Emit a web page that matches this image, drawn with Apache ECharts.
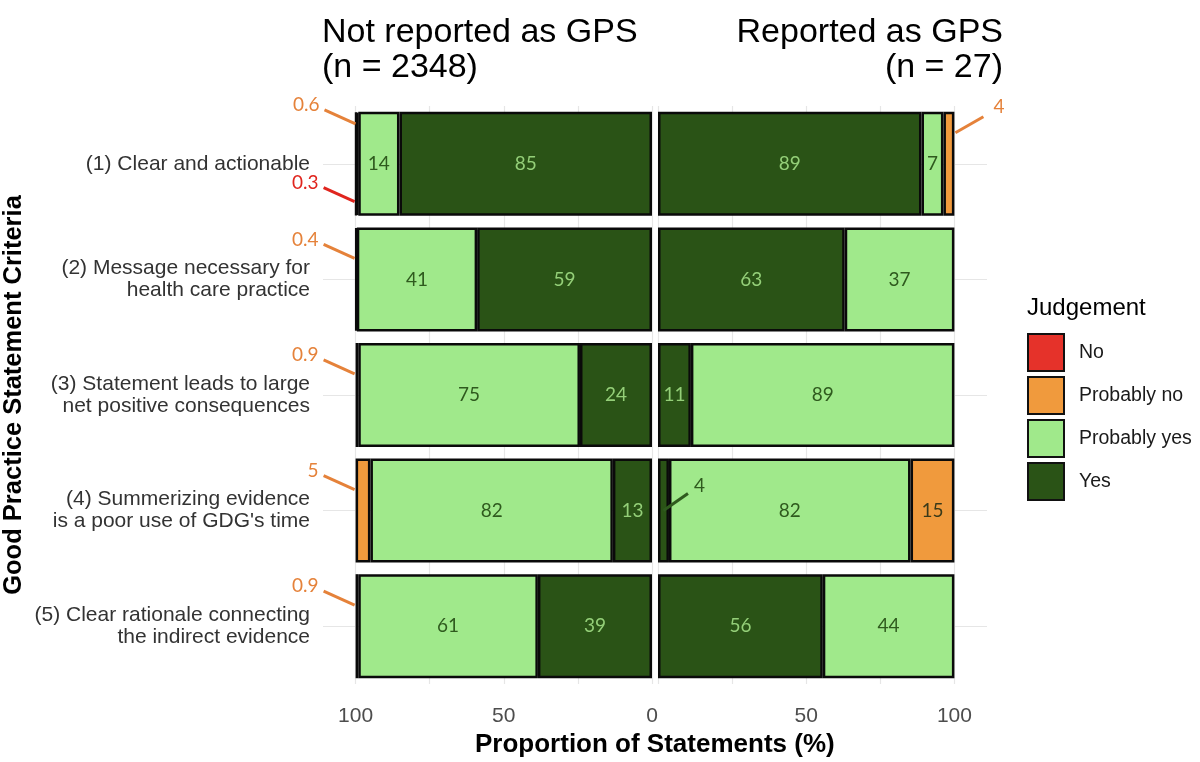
<!DOCTYPE html>
<html>
<head>
<meta charset="utf-8">
<script src="https://cdn.jsdelivr.net/npm/echarts@6/dist/echarts.min.js"></script>
<style>
  html, body { margin: 0; padding: 0; background: #fff; }
  #chart { width: 1200px; height: 762px; }
</style>
</head>
<body>
<div id="chart"></div>
<script>
// categories (top to bottom)
const criteria = [
    "(1) Clear and actionable",
    "(2) Message necessary for\nhealth care practice",
    "(3) Statement leads to large\nnet positive consequences",
    "(4) Summerizing evidence\nis a poor use of GDG's time",
    "(5) Clear rationale connecting\nthe indirect evidence"
];
const judgements = ["No", "Probably no", "Probably yes", "Yes"];

// Not reported as GPS (n = 2348), % of statements
const notYes = [85.2, 59.0, 24.3, 13.2, 38.5];
const notProbYes = [13.9, 40.6, 74.8, 81.8, 60.6];
const notProbNo = [0.6, 0.4, 0.9, 5.0, 0.9];
const notNo = [0.3, 0, 0, 0, 0];

// Reported as GPS (n = 27), % of statements
const gpsYes = [88.9, 63.0, 11.1, 3.7, 55.6];
const gpsProbYes = [7.4, 37.0, 88.9, 81.5, 44.4];
const gpsProbNo = [3.7, 0, 0, 14.8, 0];
const gpsNo = [0, 0, 0, 0, 0];

const xTickLabels = [0, 50, 100];

const FONT = "'Liberation Sans', Arial, sans-serif";
const NUM_FONT = "Lato, 'Open Sans', sans-serif";

const fills = { "No": "#e5322a", "Probably no": "#f09a3d", "Probably yes": "#a0e98b", "Yes": "#2a5316" };
const insideText = { "No": "#ffffff", "Probably no": "#3a3a1a", "Probably yes": "#2f5a1e", "Yes": "#94cf78" };
const outsideText = { "No": "#e0251e", "Probably no": "#e5823a", "Probably yes": "#2f5a1e", "Yes": "#2f5a1e" };

// labels as printed: one decimal below 1 %, whole numbers otherwise
const fmt = v => (v < 1 ? v.toFixed(1) : String(Math.round(v)));
// small segments get their label outside, with a leader line
const isSmall = v => v > 0 && Math.round(v) <= 5;

// stacking order, from 0 outwards
const stackOrder = ["Yes", "Probably yes", "Probably no", "No"];
const panels = [
    { "Yes": notYes, "Probably yes": notProbYes, "Probably no": notProbNo, "No": notNo },
    { "Yes": gpsYes, "Probably yes": gpsProbYes, "Probably no": gpsProbNo, "No": gpsNo }
];

const barSeries = (name, values, panel) => ({
    name,
    type: "bar",
    stack: "panel" + panel,
    xAxisIndex: panel,
    yAxisIndex: panel,
    barWidth: "90%",
    data: values.map(v => (v === 0 ? null : v)),
    itemStyle: { color: fills[name], borderColor: "#0a0a0a", borderWidth: 2.5 },
    label: {
        show: true,
        position: "inside",
        color: insideText[name],
        fontSize: 19,
        fontFamily: NUM_FONT,
        formatter: p => (p.value == null || isSmall(p.value) ? "" : fmt(p.value))
    },
    emphasis: { disabled: true }
});

// rows with small segments: [start, end, row, value, judgement index]
const smallItems = panel => {
    const out = [];
    criteria.forEach((c, row) => {
        let start = 0;
        stackOrder.forEach(name => {
            const v = panels[panel][name][row];
            if (isSmall(v)) out.push([start, start + v, row, v, judgements.indexOf(name)]);
            start += v;
        });
    });
    return out;
};

const renderCallout = panel => (params, api) => {
    const start = api.value(0), end = api.value(1), row = api.value(2);
    const v = api.value(3);
    const name = judgements[api.value(4)];
    const outer = api.coord([end, row]);
    const inner = api.coord([start, row]);
    const h = api.size([0, 1])[1] * 0.9;
    const top = outer[1] - h / 2;
    const color = outsideText[name];
    let tx, ty, align, p1, p2;
    if (panel === 0) {
        ty = top + 12;
        if (name === "No") ty = top + h * 0.68;
        else if (notNo[row] > 0) ty = top - 7;
        tx = outer[0] - 37;
        align = "right";
        p1 = [tx + 5, ty + 5];
        p2 = [outer[0] - 1, ty + 19];
    } else if (start === 0) {
        const right = Math.max(outer[0], inner[0]);
        tx = right + 25;
        ty = top + 27;
        align = "left";
        p1 = [tx - 6, ty + 8];
        p2 = [(outer[0] + inner[0]) / 2, outer[1]];
    } else {
        tx = outer[0] + 39;
        ty = top - 5;
        align = "left";
        p1 = [tx - 10, ty + 10];
        p2 = [outer[0] + 1, ty + 26];
    }
    return {
        type: "group",
        children: [
            { type: "line", shape: { x1: p1[0], y1: p1[1], x2: p2[0], y2: p2[1] },
              style: { stroke: color, lineWidth: 3 } },
            { type: "text", style: { text: fmt(v), x: tx, y: ty, align, verticalAlign: "middle",
                                     fill: color, fontSize: 19, fontFamily: NUM_FONT } }
        ]
    };
};

const calloutSeries = panel => ({
    type: "custom",
    name: "callouts" + panel,
    xAxisIndex: panel,
    yAxisIndex: panel,
    z: 5,
    silent: true,
    clip: false,
    encode: { x: [0, 1], y: 2 },
    data: smallItems(panel),
    renderItem: renderCallout(panel)
});

const gridLine = { color: "#e6e6e6", width: 1.2 };

const option = {
    animation: false,
    backgroundColor: "#ffffff",
    textStyle: { fontFamily: FONT },
    title: [
        { text: "Not reported as GPS\n(n = 2348)", left: 322, top: 15, padding: 0,
          textStyle: { fontSize: 34, fontWeight: "normal", color: "#000", lineHeight: 35, fontFamily: FONT } },
        { text: "Reported as GPS\n(n = 27)", left: 1003, top: 15, padding: 0, textAlign: "right",
          textStyle: { fontSize: 34, fontWeight: "normal", color: "#000", lineHeight: 35, fontFamily: FONT } },
        { text: "Proportion of Statements (%)", left: 475, top: 732, padding: 0,
          textStyle: { fontSize: 26, fontWeight: "bold", color: "#000", fontFamily: FONT } },
        { text: "Judgement", left: 1027, top: 296, padding: 0,
          textStyle: { fontSize: 24, fontWeight: "normal", color: "#000", fontFamily: FONT } }
    ],
    legend: {
        data: judgements,
        orient: "vertical",
        left: 1027,
        top: 333,
        padding: 0,
        itemWidth: 36,
        itemHeight: 37,
        itemGap: 4,
        icon: "rect",
        itemStyle: { borderColor: "#111", borderWidth: 2 },
        textStyle: { fontSize: 19.5, color: "#1a1a1a", padding: [0, 0, 0, 10], fontFamily: FONT }
    },
    grid: [
        { left: 323, top: 106, width: 329, height: 578, outerBoundsMode: "none" },
        { left: 658, top: 106, width: 329, height: 578, outerBoundsMode: "none" }
    ],
    xAxis: [0, 1].map(i => ({
        type: "value",
        gridIndex: i,
        min: 0,
        max: 111,
        interval: 25,
        inverse: i === 0,
        axisLine: { show: false },
        axisTick: { show: false },
        axisLabel: {
            formatter: v => (xTickLabels.includes(v) && !(i === 1 && v === 0) ? String(v) : ""),
            fontSize: 21,
            color: "#4d4d4d",
            margin: 22,
            fontFamily: FONT
        },
        splitLine: { show: true, showMaxLine: false, lineStyle: gridLine }
    })),
    yAxis: [0, 1].map(i => ({
        type: "category",
        gridIndex: i,
        data: criteria,
        inverse: true,
        axisLine: { show: false },
        axisTick: { show: false },
        axisLabel: { show: i === 0, fontSize: 21, lineHeight: 22, color: "#333", margin: 13, fontFamily: FONT },
        splitLine: { show: true, alignWithLabel: true, lineStyle: gridLine },
        name: i === 0 ? "Good Practice Statement Criteria" : "",
        nameLocation: "middle",
        nameRotate: 90,
        nameGap: 296,
        nameTextStyle: { fontSize: 25.5, fontWeight: "bold", color: "#000", fontFamily: FONT }
    })),
    series: [
        ...[0, 1].flatMap(panel => stackOrder.map(name => barSeries(name, panels[panel][name], panel))),
        calloutSeries(0),
        calloutSeries(1)
    ]
};

const chart = echarts.init(document.getElementById("chart"), null, { renderer: "canvas" });
chart.setOption(option);
</script>
</body>
</html>
